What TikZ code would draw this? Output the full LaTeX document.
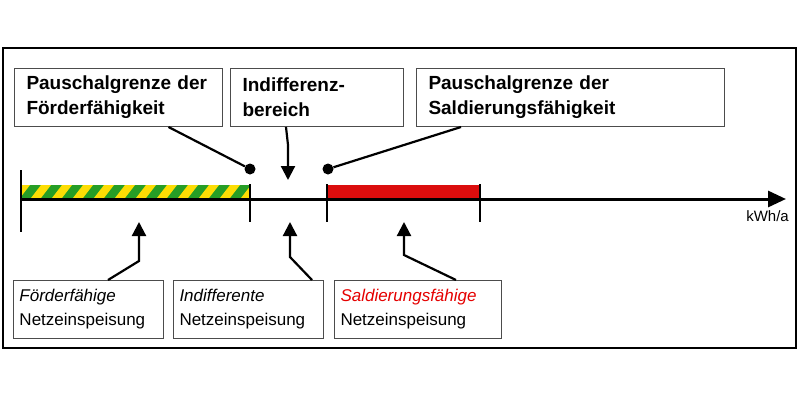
\documentclass[tikz,border=0pt]{standalone}
\usepackage{fontspec}
\setmainfont{Liberation Sans}
\usetikzlibrary{arrows.meta,calc}
\begin{document}
\begin{tikzpicture}[x=1pt,y=-1pt,
 box/.style={draw=black!70,line width=1pt,fill=white,align=left,anchor=north west,minimum height=58pt},
 tbox/.style={box,inner xsep=12pt,inner ysep=6pt,font=\bfseries\fontsize{19}{25}\selectfont},
 bbox/.style={box,inner xsep=6pt,inner ysep=6pt,font=\fontsize{17}{24}\selectfont},
 ln/.style={line width=2.2pt},
 arr/.style={line width=2.2pt,-{Triangle[length=14pt,width=14pt]}},
 dot/.style={circle,fill=black,inner sep=0pt,minimum size=11pt}]
\useasboundingbox (0,0) rectangle (800,407);
\draw[line width=1.3pt] (3,48) rectangle (796,348);
% bars
\begin{scope}
\clip (21,185) rectangle (250,198);
\fill[green!55!black!85] (21,185) rectangle (250,198);
\foreach \i in {0,...,12} \fill[yellow!80!orange] ({10+\i*21},198) -- ({20+\i*21},185) -- ({30+\i*21},185) -- ({20+\i*21},198) -- cycle;
\end{scope}
\fill[red!85!black!95] (328,185) rectangle (480,198);
% axis
\coordinate (a0) at (21,199);
\coordinate (a1) at (786,199);
\draw[line width=3pt,-{Triangle[length=18pt,width=16pt]}] (a0) -- (a1);
\draw[line width=2pt] (21,170) -- (21,232);
\foreach \x in {250,327,480} \draw[line width=1.3pt] (\x,184) -- (\x,222);
\node[anchor=north east,inner sep=0pt,font=\fontsize{15}{17}\selectfont] (unit) at (789,210) {kWh/a};
% top boxes
\node[tbox,text width=184pt] (t1) at (14,68) {Pauschalgrenze der\\Förderfähigkeit};
\node[tbox,text width=149pt] (t2) at (230,68) {Indifferenz-\\bereich};
\node[tbox,text width=284pt] (t3) at (416,68) {Pauschalgrenze der\\Saldierungsfähigkeit};
\node[dot] (d1) at (250,169) {};
\node[dot] (d2) at (328,169) {};
\draw[ln] ($(t1.south)+(50,0)$) -- (d1);
\draw[ln] ($(t3.south west)+(45,0)$) -- (d2);
\coordinate (k1) at (288,145);
\draw[arr] ($(t2.south)+(-31,0)$) -- (k1) -- (288,180);
% bottom boxes
\node[bbox,text width=138pt] (b1) at (13,280) {\textit{Förderfähige}\\Netzeinspeisung};
\node[bbox,text width=138pt] (b2) at (173,280) {\textit{Indifferente}\\Netzeinspeisung};
\node[bbox,text width=155pt] (b3) at (334,280) {\textcolor{red!90!black}{\textit{Saldierungsfähige}}\\Netzeinspeisung};
\draw[arr] ($(b1.north west)+(95,0)$) -- (139,261) -- (139,222);
\draw[arr] ($(b2.north west)+(139,0)$) -- (290,257) -- (290,222);
\draw[arr] ($(b3.north west)+(122,0)$) -- (404,255) -- (404,222);
\end{tikzpicture}
\end{document}
